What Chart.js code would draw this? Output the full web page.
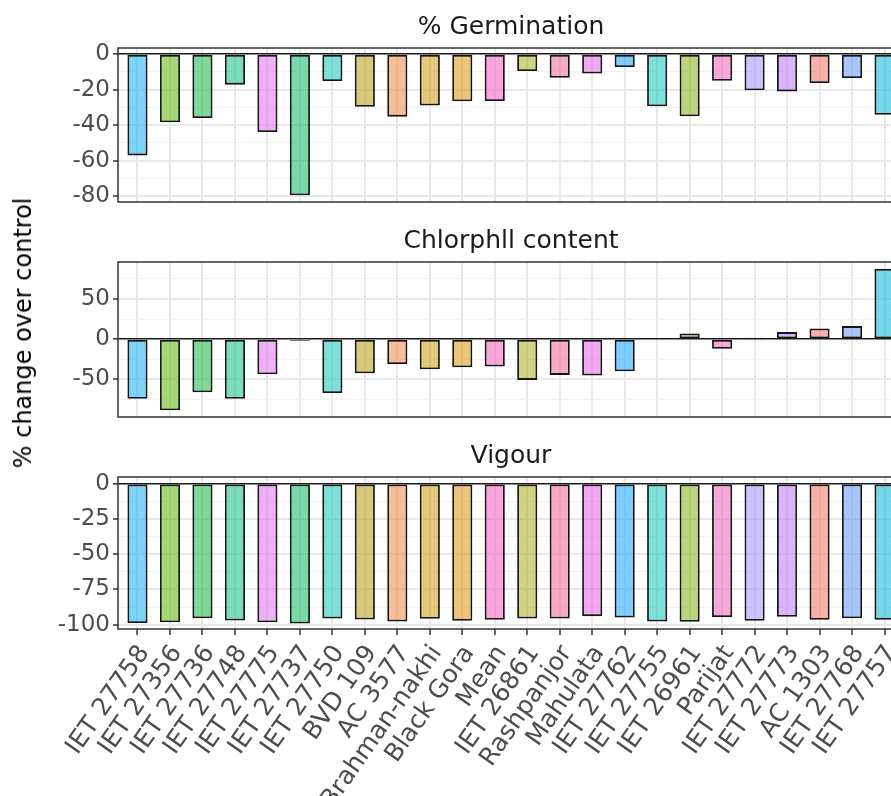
<!DOCTYPE html>
<html>
<head>
<meta charset="utf-8">
<script src="https://cdn.jsdelivr.net/npm/chart.js@4.4.1/dist/chart.umd.min.js"></script>
<style>
  html, body { margin: 0; padding: 0; background: #ffffff; width: 891px; height: 796px; overflow: hidden; }
  canvas { position: absolute; left: 0; }
  #ytitle {
    position: absolute; left: 23px; top: 333px;
    transform: translate(-50%, -50%) rotate(-90deg);
    font: 24px "DejaVu Sans", sans-serif; color: #000; white-space: nowrap;
  }
</style>
</head>
<body>
<canvas id="c1" width="915" height="202" style="top:1px"></canvas>
<canvas id="c2" width="915" height="203" style="top:215px"></canvas>
<canvas id="c3" width="915" height="366" style="top:430px"></canvas>
<div id="ytitle">% change over control</div>
<script>
// ---------------- data ----------------
const categories = [
  "IET 27758", "IET 27356", "IET 27736", "IET 27748", "IET 27775", "IET 27737",
  "IET 27750", "BVD 109", "AC 3577", "Brahman-nakhi", "Black Gora", "Mean",
  "IET 26861", "Rashpanjor", "Mahulata", "IET 27762", "IET 27755", "IET 26961",
  "Parijat", "IET 27772", "IET 27773", "AC 1303", "IET 27768", "IET 27757"
];
const germination = [
  -57.0, -38.4, -36.0, -17.2, -43.8, -79.4, -15.2, -29.6, -35.2, -28.9, -26.6, -26.4,
  -9.6, -13.3, -10.9, -7.3, -29.4, -35.0, -15.0, -20.4, -21.0, -16.3, -13.5, -34.1
];
const chlorophyll = [
  -74.2, -88.7, -66.2, -74.2, -43.7, -2.0, -67.1, -42.5, -31.2, -37.5, -35.0, -34.2,
  -50.8, -44.6, -45.4, -40.0, 0.6, 7.1, -12.1, 1.8, 8.7, 13.3, 16.2, 87.5
];
const vigour = [
  -98.7, -98.2, -95.4, -97.0, -98.2, -99.1, -95.6, -96.3, -97.7, -95.8, -97.2, -96.5,
  -95.6, -95.6, -93.9, -94.9, -97.7, -97.9, -94.6, -97.2, -94.4, -96.5, -95.4, -96.5
];
const panelTitles = ["% Germination", "Chlorphll content", "Vigour"];
const germTicks = [0, -20, -40, -60, -80];
const germMinor = [-10, -30, -50, -70];
const chlTicks = [50, 0, -50];
const chlMinor = [75, 25, -25, -75];
const vigTicks = [0, -25, -50, -75, -100];
const vigMinor = [-12.5, -37.5, -62.5, -87.5];

// ---------------- style ----------------
const palette = [
  "rgba(19,177,239,0.55)", "rgba(90,184,8,0.55)", "rgba(22,184,68,0.55)", "rgba(19,191,133,0.55)",
  "rgba(224,111,239,0.55)", "rgba(13,186,97,0.55)", "rgba(20,199,180,0.55)", "rgba(184,157,17,0.55)",
  "rgba(239,135,64,0.55)", "rgba(206,155,17,0.55)", "rgba(220,148,13,0.55)", "rgba(244,93,193,0.55)",
  "rgba(168,175,28,0.55)", "rgba(242,102,148,0.55)", "rgba(233,99,231,0.55)", "rgba(19,164,255,0.55)",
  "rgba(22,197,191,0.55)", "rgba(133,177,22,0.55)", "rgba(242,100,180,0.55)", "rgba(164,146,246,0.55)",
  "rgba(193,119,246,0.55)", "rgba(242,115,100,0.55)", "rgba(99,151,248,0.55)", "rgba(8,182,213,0.55)"
];
const FONT = '"DejaVu Sans", sans-serif';
Chart.defaults.font.family = FONT;

const panelBorder = {
  id: 'panelBorder',
  afterDraw(chart) {
    const a = chart.chartArea, ctx = chart.ctx;
    ctx.save();
    ctx.strokeStyle = '#333333';
    ctx.lineWidth = 1.5;
    ctx.strokeRect(a.left, a.top, a.right - a.left, a.bottom - a.top);
    ctx.restore();
  }
};

function yScale(min, max, major, minor) {
  const all = major.concat(minor).sort((p, q) => p - q);
  const isMajor = v => major.indexOf(v) !== -1;
  return {
    type: 'linear', min: min, max: max,
    afterBuildTicks: s => { s.ticks = all.map(v => ({ value: v })); },
    afterFit: s => { s.width = 118; s.paddingTop = 0; s.paddingBottom = 0; },
    ticks: {
      autoSkip: false, color: '#4d4d4d', padding: 3,
      font: { size: 23 },
      callback: v => isMajor(v) ? String(v) : ''
    },
    grid: {
      color: c => (c.tick && c.tick.value === 0) ? '#1a1a1a' : (c.tick && isMajor(c.tick.value) ? '#e8e8e8' : '#f1f1f1'),
      lineWidth: c => (c.tick && c.tick.value === 0) ? 1.6 : (c.tick && isMajor(c.tick.value) ? 2 : 1),
      tickLength: 5,
      tickColor: c => (c.tick && isMajor(c.tick.value)) ? '#333333' : 'rgba(0,0,0,0)',
      tickWidth: 1.5
    },
    border: { display: false }
  };
}

function xScale(showLabels, height) {
  return {
    type: 'linear', min: -0.6, max: categories.length - 0.4,
    offset: false,
    afterBuildTicks: s => { s.ticks = categories.map((c, i) => ({ value: i })); },
    afterFit: s => { s.height = height; s.paddingLeft = 0; s.paddingRight = 0; },
    ticks: {
      display: showLabels, autoSkip: false, minRotation: 55, maxRotation: 55,
      color: '#4d4d4d', padding: 5, labelOffset: 7, font: { size: 25 },
      callback: v => categories[v]
    },
    grid: {
      offset: false, color: '#e8e8e8', lineWidth: 2,
      drawTicks: showLabels, tickLength: 6, tickColor: '#333333', tickWidth: 1.5
    },
    border: { display: false }
  };
}

function makeChart(id, title, values, yMin, yMax, major, minor, showLabels, xHeight) {
  return new Chart(document.getElementById(id), {
    type: 'bar',
    data: {
      datasets: [{
        data: values.map((v, i) => ({ x: i, y: v })),
        backgroundColor: palette,
        borderColor: '#151515',
        borderWidth: 1.8,
        borderSkipped: false,
        categoryPercentage: 1.0,
        barPercentage: 0.62
      }]
    },
    options: {
      responsive: false,
      animation: false,
      layout: { padding: { left: 0, right: 11, top: 0, bottom: 0 } },
      plugins: {
        legend: { display: false },
        tooltip: { enabled: false },
        title: {
          display: true, text: title, fullSize: false, color: '#1a1a1a',
          font: { size: 25, weight: 'normal' },
          padding: { top: 11, bottom: 6 }
        }
      },
      scales: {
        x: xScale(showLabels, xHeight),
        y: yScale(yMin, yMax, major, minor)
      }
    },
    plugins: [panelBorder]
  });
}

makeChart('c1', panelTitles[0], germination, -83.2, 3.4, germTicks, germMinor, false, 1);
makeChart('c2', panelTitles[1], chlorophyll, -97, 96, chlTicks, chlMinor, false, 1);
makeChart('c3', panelTitles[2], vigour, -103, 4.7, vigTicks, vigMinor, true, 167);
</script>
</body>
</html>
